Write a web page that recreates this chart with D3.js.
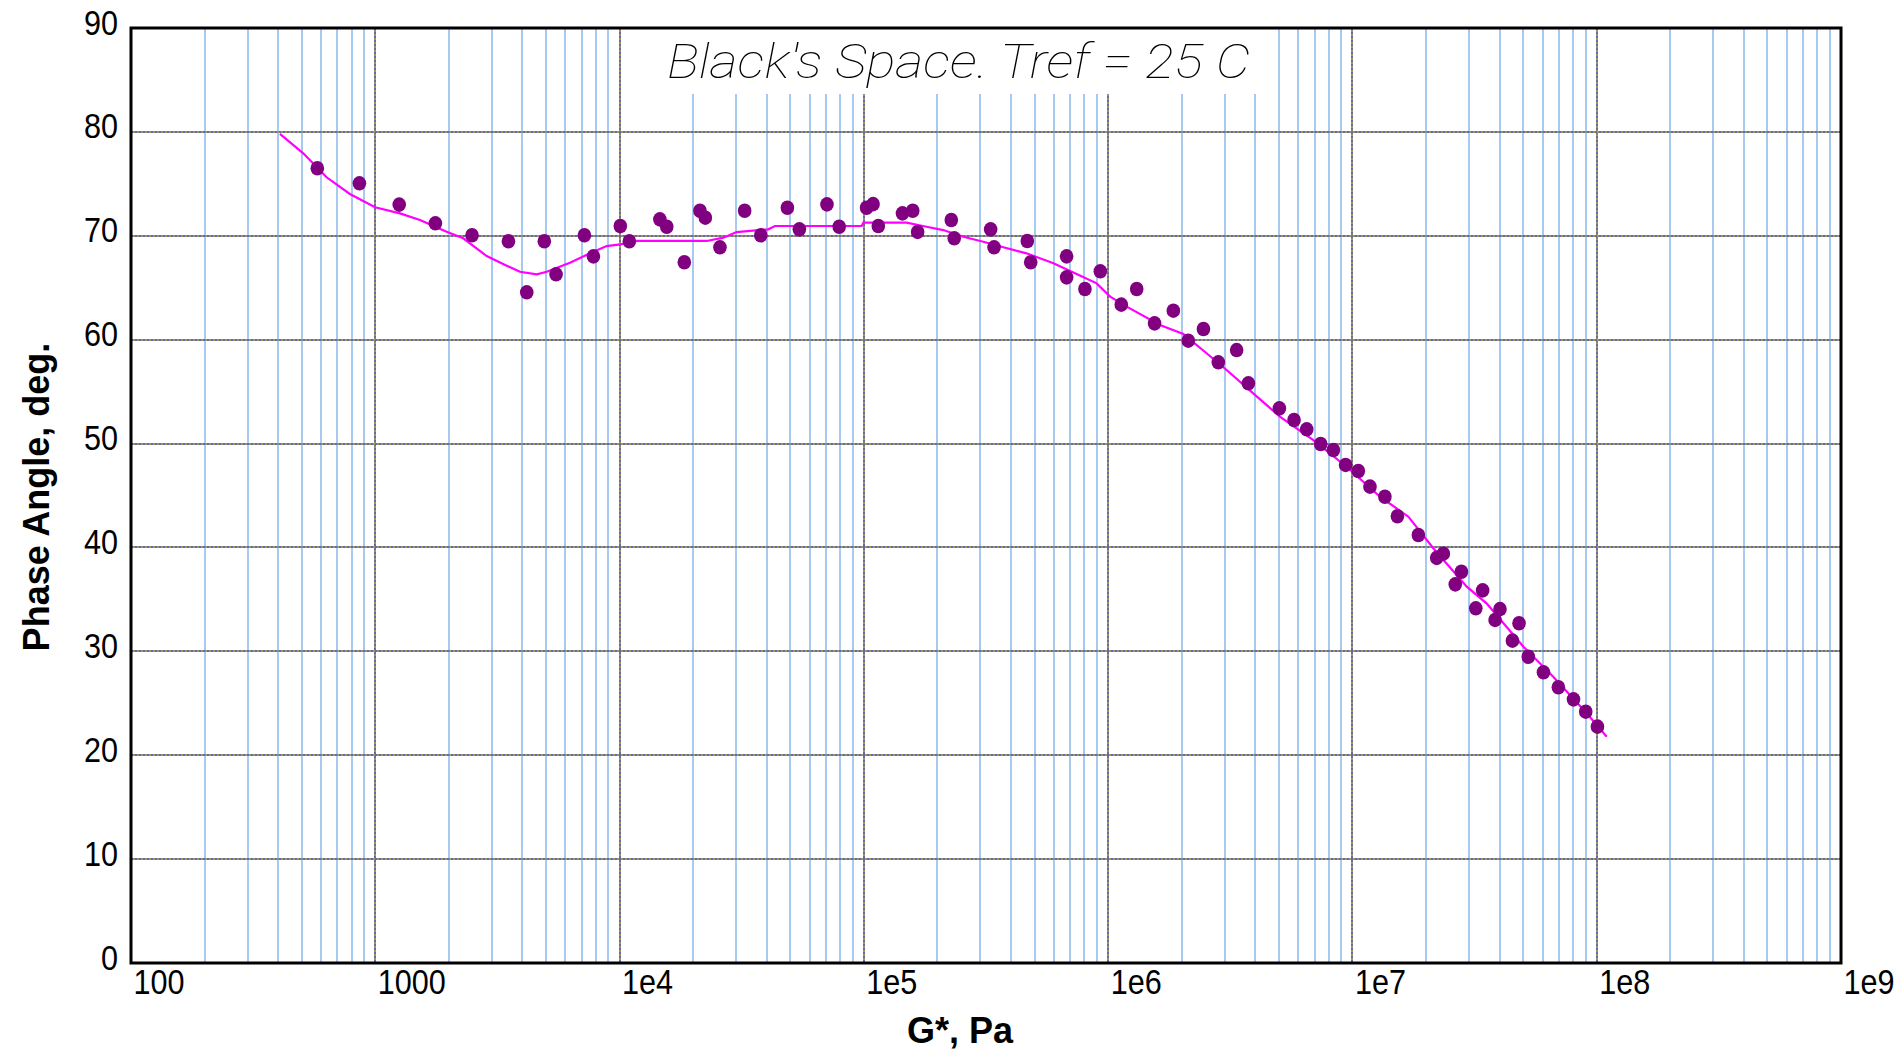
<!DOCTYPE html>
<html>
<head>
<meta charset="utf-8">
<script src="https://cdn.jsdelivr.net/npm/d3@7"></script>
<style>
  html, body { margin: 0; padding: 0; background: #ffffff; }
  svg { display: block; }
</style>
</head>
<body>
<svg id="chart" width="1900" height="1050"></svg>
<script>
// ---------------- DATA ----------------
const titleText = "Black's Space. Tref =  25 C";
const xAxisTitle = "G*, Pa";
const yAxisTitle = "Phase Angle, deg.";

const xTickValues = [1e2, 1e3, 1e4, 1e5, 1e6, 1e7, 1e8, 1e9];
const xTickLabels = ["100", "1000", "1e4", "1e5", "1e6", "1e7", "1e8", "1e9"];
const yTickValues = [0, 10, 20, 30, 40, 50, 60, 70, 80, 90];
const yTickLabels = ["0", "10", "20", "30", "40", "50", "60", "70", "80", "90"];

// measured points: |G*| (Pa) and phase angle (deg)
const pointG = [
  579, 861, 1253, 1762, 2489, 3508, 4169, 4920, 5495, 7178,
  7816, 10070, 10965, 14620, 15600, 18410, 21330, 22440, 25760, 32510,
  37840, 48640, 54450, 70630, 79250, 102600, 109100, 114600, 143900, 158500,
  166000, 228000, 234400, 330400, 341200, 466700, 482000, 676100, 676100, 803500,
  929000, 1.132e6, 1.309e6, 1.549e6, 1.849e6, 2.128e6, 2.455e6, 2.825e6, 3.357e6, 3.750e6,
  5.023e6, 5.768e6, 6.501e6, 7.413e6, 8.356e6, 9.376e6, 1.057e7, 1.180e7, 1.358e7, 1.528e7,
  1.862e7, 2.213e7, 2.355e7, 2.636e7, 2.793e7, 3.199e7, 3.412e7, 3.837e7, 4.018e7, 4.519e7,
  4.808e7, 5.248e7, 6.053e7, 6.966e7, 8.035e7, 9.016e7, 1.007e8
];
const pointPhase = [
  76.5, 75.05, 73.0, 71.2, 70.05, 69.47, 64.56, 69.47, 66.29, 70.05,
  68.02, 70.94, 69.47, 71.58, 70.87, 67.45, 72.41, 71.74, 68.89, 72.41,
  70.05, 72.70, 70.62, 73.02, 70.87, 72.70, 73.05, 70.94, 72.16, 72.41,
  70.37, 71.52, 69.76, 70.62, 68.89, 69.50, 67.45, 68.02, 66.0, 64.88,
  66.58, 63.37, 64.88, 61.57, 62.79, 59.9, 61.03, 57.82, 59.0, 55.80,
  53.39, 52.27, 51.37, 49.96, 49.38, 47.94, 47.36, 45.85, 44.88, 43.0,
  41.2, 39.0, 39.4, 36.45, 37.66, 34.14, 35.87, 33.02, 34.07, 31.03,
  32.70, 29.48, 27.98, 26.54, 25.38, 24.19, 22.75
];

// fitted master curve
const curveG = [
  407, 507, 632, 787, 998, 1262, 1524, 1959, 2291, 2858,
  3451, 3908, 4581, 5035, 6266, 7568, 8851, 10050, 11750, 22750,
  26610, 30130, 40640, 43250, 97950, 99540, 149600, 180700, 211300, 255300,
  308300, 372400, 463400, 597000, 743000, 897500, 1.019e6, 1.227e6, 1.629e6, 2.032e6,
  2.529e6, 3.055e6, 3.926e6, 5.047e6, 6.918e6, 9.462e6, 1.297e7, 1.694e7, 2.143e7, 2.938e7,
  3.540e7, 5.012e7, 6.637e7, 9.099e7, 1.099e8
];
const curvePhase = [
  79.80, 77.94, 75.63, 74.02, 72.74, 72.16, 71.52, 70.39, 69.76, 68.05,
  67.12, 66.54, 66.29, 66.54, 67.41, 68.31, 69.01, 69.18, 69.50, 69.50,
  69.82, 70.36, 70.62, 70.94, 70.94, 71.26, 71.26, 70.87, 70.55, 69.91,
  69.43, 68.89, 68.31, 67.35, 66.32, 65.42, 64.14, 63.01, 61.41, 60.54,
  58.69, 57.08, 54.83, 52.58, 50.34, 47.77, 44.88, 42.96, 39.92, 36.22,
  34.62, 30.45, 27.56, 24.04, 21.78
];

// ---------------- LAYOUT ----------------
const plot = { left: 131, right: 1841, top: 28, bottom: 963 };
const svg = d3.select("#chart");

const x = d3.scaleLog().domain([1e2, 1e9]).range([plot.left, plot.right]);
const y = d3.scaleLinear().domain([0, 90]).range([plot.bottom, plot.top]);

const gGrid = svg.append("g");

// minor vertical grid (2..9 per decade)
const minorVals = [];
for (let e = 2; e < 9; e++) {
  for (let m = 2; m <= 9; m++) minorVals.push(m * Math.pow(10, e));
}
gGrid.selectAll("line.minor").data(minorVals).join("line")
  .attr("class", "minor")
  .attr("x1", d => Math.round(x(d))).attr("x2", d => Math.round(x(d)))
  .attr("y1", plot.top).attr("y2", plot.bottom)
  .attr("stroke", "#a6caf0").attr("stroke-width", 2);

// major vertical grid (decades, inner)
const majorX = xTickValues.slice(1, -1);
function dottedV(sel, color, offset) {
  sel.selectAll(null).data(majorX).join("line")
    .attr("x1", d => Math.round(x(d))).attr("x2", d => Math.round(x(d)))
    .attr("y1", plot.top).attr("y2", plot.bottom)
    .attr("stroke", color).attr("stroke-width", 2)
    .attr("stroke-dasharray", "2 2").attr("stroke-dashoffset", offset);
}
dottedV(gGrid, "#6a6a9c", 0);
dottedV(gGrid, "#96966a", 2);

// title background box (hides grid behind title)
const titleBox = { x0: 660, x1: 1259, y0: plot.top, y1: 94 };
gGrid.append("rect")
  .attr("x", titleBox.x0).attr("y", titleBox.y0)
  .attr("width", titleBox.x1 - titleBox.x0).attr("height", titleBox.y1 - titleBox.y0)
  .attr("fill", "#ffffff");

// major horizontal grid
const majorY = yTickValues.slice(1, -1);
function dottedH(sel, color, offset) {
  sel.selectAll(null).data(majorY).join("line")
    .attr("x1", plot.left).attr("x2", plot.right)
    .attr("y1", d => Math.round(y(d))).attr("y2", d => Math.round(y(d)))
    .attr("stroke", color).attr("stroke-width", 2)
    .attr("stroke-dasharray", "2 2").attr("stroke-dashoffset", offset);
}
dottedH(gGrid, "#6a6a9c", 0);
dottedH(gGrid, "#96966a", 2);

// title
svg.append("text")
  .attr("x", 667).attr("y", 78)
  .attr("textLength", 583).attr("lengthAdjust", "spacingAndGlyphs")
  .attr("font-family", "Roboto, 'DejaVu Sans', sans-serif")
  .attr("font-weight", 100)
  .attr("font-style", "italic")
  .attr("font-size", 48)
  .attr("fill", "#000")
  .text(titleText);

// fitted curve
const line = d3.line()
  .x((d, i) => x(curveG[i]))
  .y((d, i) => y(curvePhase[i]));
svg.append("path")
  .attr("d", line(curveG))
  .attr("fill", "none")
  .attr("stroke", "#ff00ff")
  .attr("stroke-width", 2.2);

// points
svg.append("g").selectAll("ellipse").data(pointG).join("ellipse")
  .attr("cx", (d, i) => x(pointG[i]))
  .attr("cy", (d, i) => y(pointPhase[i]))
  .attr("rx", 6.8).attr("ry", 7.3)
  .attr("fill", "#800080");

// frame
svg.append("rect")
  .attr("x", plot.left).attr("y", plot.top)
  .attr("width", plot.right - plot.left).attr("height", plot.bottom - plot.top)
  .attr("fill", "none").attr("stroke", "#000").attr("stroke-width", 3);

// axes labels via d3 axes (narrowed glyphs)
const tickFont = "'Liberation Sans', Arial, sans-serif";
const sx = 0.85;

const xAxis = d3.axisBottom(x)
  .tickValues(xTickValues)
  .tickFormat((d, i) => xTickLabels[i])
  .tickSize(0);
const gx = svg.append("g").attr("transform", `translate(0,${plot.bottom})`).call(xAxis);
gx.select(".domain").remove();
gx.selectAll("text")
  .attr("text-anchor", "start")
  .attr("x", 2 / sx).attr("y", 31).attr("dy", null)
  .attr("transform", `scale(${sx},1)`)
  .attr("font-family", tickFont).attr("font-size", 36).attr("fill", "#000");

const yAxis = d3.axisLeft(y)
  .tickValues(yTickValues)
  .tickFormat((d, i) => yTickLabels[i])
  .tickSize(0);
const gy = svg.append("g").attr("transform", `translate(${plot.left},0)`).call(yAxis);
gy.select(".domain").remove();
gy.selectAll("text")
  .attr("text-anchor", "end")
  .attr("x", -13 / sx).attr("y", 6).attr("dy", null)
  .attr("transform", `scale(${sx},1)`)
  .attr("font-family", tickFont).attr("font-size", 36).attr("fill", "#000");

// axis titles
svg.append("text")
  .attr("x", 907).attr("y", 1043)
  .attr("font-family", "'Liberation Sans', Arial, sans-serif")
  .attr("font-weight", "bold").attr("font-size", 36)
  .attr("fill", "#000")
  .text(xAxisTitle);

svg.append("text")
  .attr("transform", "translate(49,497) rotate(-90)")
  .attr("text-anchor", "middle")
  .attr("font-family", "'Liberation Sans', Arial, sans-serif")
  .attr("font-weight", "bold").attr("font-size", 36)
  .attr("fill", "#000")
  .text(yAxisTitle);
</script>
</body>
</html>
